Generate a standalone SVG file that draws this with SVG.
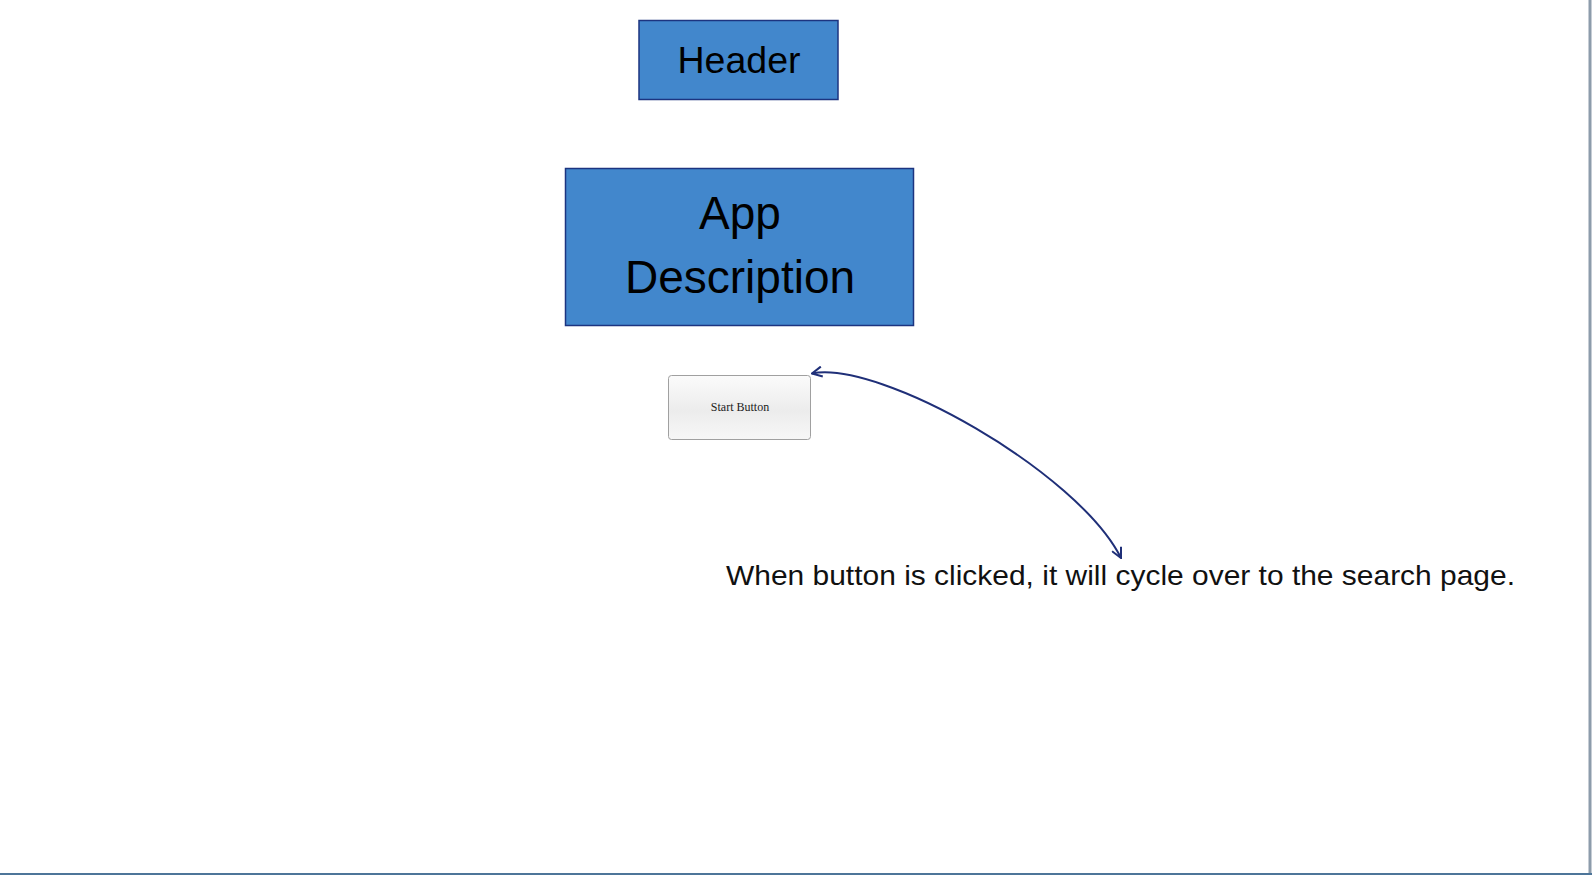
<svg xmlns="http://www.w3.org/2000/svg" width="1592" height="875" viewBox="0 0 1592 875">
<style>
.box{fill:#4287cc;stroke:#1c3480;stroke-width:1.5}
.lbl{font-family:"Liberation Sans",Arial,sans-serif;fill:#000;text-anchor:middle}
.conn{fill:none;stroke:#1f2f78;stroke-width:2}
</style>
<defs>
<linearGradient id="btn" x1="0" y1="0" x2="0" y2="1">
<stop offset="0" stop-color="#fbfbfb"/>
<stop offset="0.55" stop-color="#ececec"/>
<stop offset="1" stop-color="#f7f7f7"/>
</linearGradient>
<marker id="ah" viewBox="0 0 12 12" refX="11" refY="6" markerWidth="12" markerHeight="12" markerUnits="userSpaceOnUse" orient="auto-start-reverse">
<path d="M1,1 L11,6 L1,11" fill="none" stroke="#1f2f78" stroke-width="2"/>
</marker>
</defs>
<rect x="0" y="0" width="1592" height="875" fill="#fff"/>
<line x1="1590" y1="0" x2="1590" y2="875" stroke="#8d9cab" stroke-width="3"/>
<line x1="0" y1="874" x2="1592" y2="874" stroke="#4d7599" stroke-width="2"/>
<g id="header">
<rect class="box" x="639" y="20.5" width="199" height="79"/>
<text class="lbl" x="739" y="73" font-size="37.5">Header</text>
</g>
<g id="app-description">
<rect class="box" x="565.5" y="168.5" width="348" height="157"/>
<text class="lbl" x="740" y="229" font-size="46">App</text>
<text class="lbl" x="740" y="293" font-size="46">Description</text>
</g>
<g id="start-button">
<rect x="668.5" y="375.5" width="142" height="64" rx="3" fill="url(#btn)" stroke="#a0a0a0" stroke-width="1"/>
<text x="740" y="411" font-family="'Liberation Serif','Times New Roman',serif" font-size="12" text-anchor="middle" fill="#222">Start Button</text>
</g>
<g id="note">
<text x="726" y="585" font-family="'Liberation Sans',Arial,sans-serif" font-size="28" fill="#111" textLength="789" lengthAdjust="spacingAndGlyphs">When button is clicked, it will cycle over to the search page.</text>
</g>
<g id="connectors">
<path class="conn" d="M812,373.5 C880,360 1078,472 1121,558" marker-start="url(#ah)" marker-end="url(#ah)"/>
</g>
</svg>
